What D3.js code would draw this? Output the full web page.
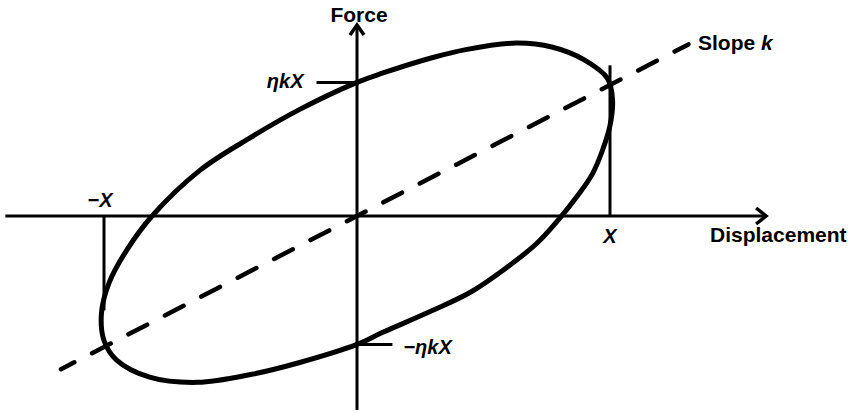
<!DOCTYPE html>
<html>
<head>
<meta charset="utf-8">
<script src="https://cdn.jsdelivr.net/npm/d3@7"></script>
<style>
  html, body { margin: 0; padding: 0; background: #fff; }
  svg { display: block; }
  .lbl { font-family: "Liberation Sans", Arial, sans-serif; fill: #000; }
</style>
</head>
<body>
<svg id="chart" width="868" height="413"></svg>
<script>
// Hysteresis loop of a structure with hysteretic damping.
// Displacement in units of the amplitude X, force in units of kX.

// Loop outline, traced clockwise starting at the force-axis crossing.
const loopDisp  = [0, 0.10, 0.30, 0.43, 0.63, 0.77, 0.90, 0.99, 1.01, 1.00, 0.97, 0.93, 0.87, 0.80, 0.71, 0.58, 0.45, 0.30, 0.10,
                   0, -0.23, -0.42, -0.63, -0.82, -0.95, -1.00, -1.01, -0.98, -0.91, -0.81, -0.62, -0.42, -0.23];
const loopForce = [1.02, 1.09, 1.21, 1.27, 1.32, 1.29, 1.19, 1.05, 0.89, 0.69, 0.50, 0.32, 0.15, -0.02, -0.21, -0.41, -0.58, -0.72, -0.89,
                   -0.98, -1.12, -1.21, -1.27, -1.23, -1.10, -0.95, -0.74, -0.51, -0.26, 0, 0.35, 0.60, 0.81];

// Stiffness line F = k x (slope 1 in these units) and its drawn extent.
const slopeK = 1;
const slopeSpan = [-1.17, 1.31];

// Loss-force intercepts ±ηkX and amplitude ±X.
const etaKX = [1.02, -0.98];
const amplitude = [1, -1];

// Axis extents.
const dispAxis = [-1.39, 1.617];
const forceAxis = [-1.48, 1.458];

const svg = d3.select("#chart");
const x = d3.scaleLinear().domain([-1, 1]).range([104, 610]);
const y = d3.scaleLinear().domain([-1, 1]).range([347, 85]);

const ink = "#000";

// Axes
svg.append("line")
  .attr("x1", x(dispAxis[0])).attr("x2", x(dispAxis[1]))
  .attr("y1", y(0)).attr("y2", y(0))
  .attr("stroke", ink).attr("stroke-width", 3);
svg.append("line")
  .attr("x1", x(0)).attr("x2", x(0))
  .attr("y1", y(forceAxis[0])).attr("y2", y(forceAxis[1]))
  .attr("stroke", ink).attr("stroke-width", 3);

// Arrowheads (open chevrons)
const hx = x(dispAxis[1]), hy = y(0);
svg.append("path")
  .attr("d", `M${hx - 10},${hy - 8} L${hx},${hy} L${hx - 10},${hy + 8}`)
  .attr("fill", "none").attr("stroke", ink).attr("stroke-width", 3.5)
  .attr("stroke-linejoin", "miter");
const vx = x(0), vy = y(forceAxis[1]);
svg.append("path")
  .attr("d", `M${vx - 7},${vy + 10} L${vx},${vy} L${vx + 7},${vy + 10}`)
  .attr("fill", "none").attr("stroke", ink).attr("stroke-width", 3.5)
  .attr("stroke-linejoin", "miter");

// Amplitude guides at +X and -X
svg.append("line")
  .attr("x1", x(amplitude[0])).attr("x2", x(amplitude[0]))
  .attr("y1", y(0)).attr("y2", y(1.15))
  .attr("stroke", ink).attr("stroke-width", 3);
svg.append("line")
  .attr("x1", x(amplitude[1])).attr("x2", x(amplitude[1]))
  .attr("y1", y(0)).attr("y2", y(-0.72))
  .attr("stroke", ink).attr("stroke-width", 3);

// Intercept ticks for ±ηkX
svg.append("line")
  .attr("x1", x(-0.16)).attr("x2", x(0))
  .attr("y1", y(etaKX[0])).attr("y2", y(etaKX[0]))
  .attr("stroke", ink).attr("stroke-width", 3);
svg.append("line")
  .attr("x1", x(0)).attr("x2", x(0.14))
  .attr("y1", y(etaKX[1])).attr("y2", y(etaKX[1]))
  .attr("stroke", ink).attr("stroke-width", 3);

// Stiffness line (dashed)
svg.append("line")
  .attr("x1", x(slopeSpan[0])).attr("y1", y(slopeK * slopeSpan[0]))
  .attr("x2", x(slopeSpan[1])).attr("y2", y(slopeK * slopeSpan[1]))
  .attr("stroke", ink).attr("stroke-width", 4.5)
  .attr("stroke-linecap", "round")
  .attr("stroke-dasharray", "21,20")
  .attr("stroke-dashoffset", 6);

// Hysteresis loop
const loopPts = loopDisp.map((d, i) => [d, loopForce[i]]);
svg.append("path")
  .datum(loopPts)
  .attr("d", d3.line().x(d => x(d[0])).y(d => y(d[1])).curve(d3.curveCatmullRomClosed.alpha(0.5)))
  .attr("fill", "none").attr("stroke", ink).attr("stroke-width", 5);

// Labels
svg.append("text").attr("class", "lbl")
  .attr("x", x(0) + 2).attr("y", 22).attr("text-anchor", "middle")
  .attr("font-size", 21).attr("font-weight", "bold").text("Force");

svg.append("text").attr("class", "lbl")
  .attr("x", 710).attr("y", y(0) + 26).attr("text-anchor", "start")
  .attr("font-size", 21).attr("font-weight", "bold").text("Displacement");

const slopeLbl = svg.append("text").attr("class", "lbl")
  .attr("x", 698).attr("y", 50).attr("font-size", 21).attr("font-weight", "bold");
slopeLbl.append("tspan").text("Slope ");
slopeLbl.append("tspan").attr("font-style", "italic").text("k");

svg.append("text").attr("class", "lbl")
  .attr("x", x(-0.16) - 13).attr("y", y(etaKX[0]) + 6).attr("text-anchor", "end")
  .attr("font-size", 20).attr("font-style", "italic").attr("font-weight", "bold").text("ηkX");

svg.append("text").attr("class", "lbl")
  .attr("x", x(0.14) + 11).attr("y", y(etaKX[1]) + 10).attr("text-anchor", "start")
  .attr("font-size", 20).attr("font-style", "italic").attr("font-weight", "bold").text("−ηkX");

svg.append("text").attr("class", "lbl")
  .attr("x", x(amplitude[1]) - 4).attr("y", y(0) - 9).attr("text-anchor", "middle")
  .attr("font-size", 20).attr("font-style", "italic").attr("font-weight", "bold").text("−X");

svg.append("text").attr("class", "lbl")
  .attr("x", x(amplitude[0])).attr("y", y(0) + 27).attr("text-anchor", "middle")
  .attr("font-size", 20).attr("font-style", "italic").attr("font-weight", "bold").text("X");
</script>
</body>
</html>
